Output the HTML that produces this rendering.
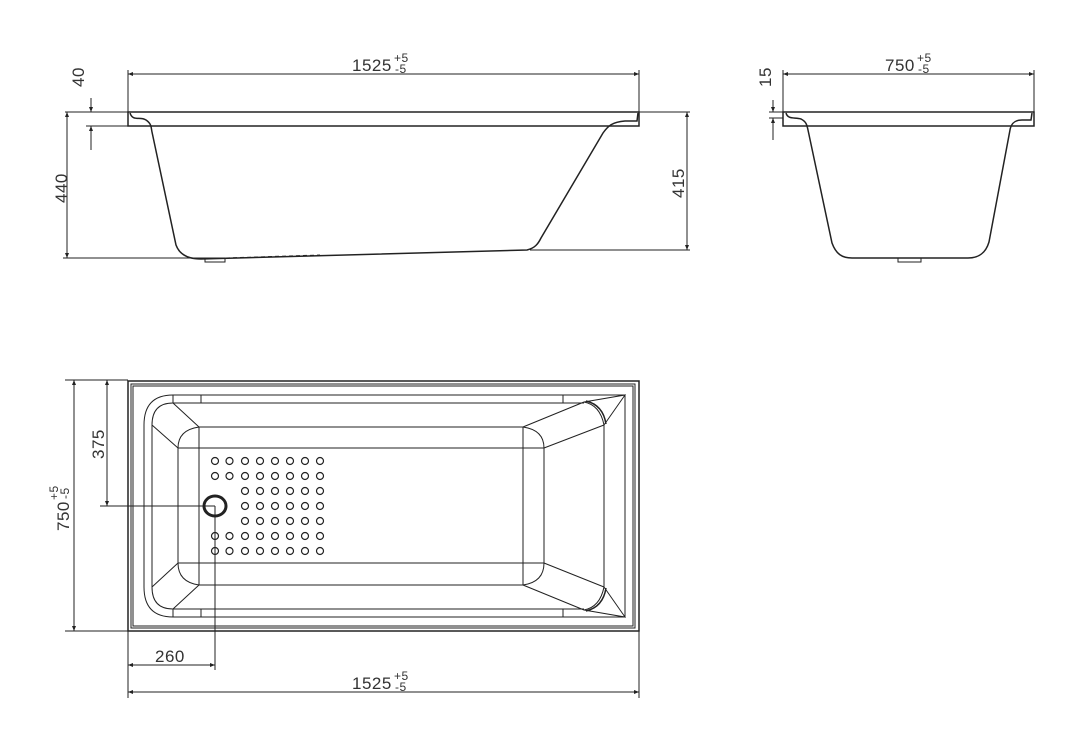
<!DOCTYPE html>
<html><head><meta charset="utf-8"><style>
html,body{margin:0;padding:0;background:#fff}
svg text{font-family:"Liberation Sans",sans-serif;fill:#333}
</style></head><body>
<svg width="1073" height="741" viewBox="0 0 1073 741" xmlns="http://www.w3.org/2000/svg">
<defs>
<marker id="a" viewBox="0 0 10 10" refX="10" refY="5" markerWidth="12" markerHeight="5" orient="auto-start-reverse" markerUnits="userSpaceOnUse"><path d="M0,1 L10,5 L0,9 z" fill="#222"/></marker>
</defs>
<g fill="none" stroke="#222" stroke-width="1">
<!-- SIDE VIEW 1 -->
<line x1="128" y1="70" x2="128" y2="112"/><line x1="639" y1="70" x2="639" y2="112"/>
<line x1="128" y1="74" x2="639" y2="74" marker-start="url(#a)" marker-end="url(#a)"/>
<rect x="128" y="112" width="511" height="14" stroke-width="1.5"/>
<line x1="65" y1="112" x2="128" y2="112"/><line x1="86" y1="126" x2="128" y2="126"/>
<line x1="91" y1="98" x2="91" y2="112" marker-end="url(#a)"/><line x1="91" y1="150" x2="91" y2="126" marker-end="url(#a)"/>
<line x1="67" y1="112" x2="67" y2="258" marker-start="url(#a)" marker-end="url(#a)"/>
<line x1="63" y1="258" x2="205" y2="258"/>
<line x1="639" y1="112" x2="690" y2="112"/><line x1="530" y1="250" x2="690" y2="250"/>
<line x1="687" y1="112" x2="687" y2="250" marker-start="url(#a)" marker-end="url(#a)"/>
<path d="M130,113 C133,122 140,116 146,120 C152,124 151,128 152,132 L176,245 C180,256 190,259 201,259 L527,250 C535,248 538,244 541,238 L603,133 C608,126 612,122 625,121 L637,121 L638,113" stroke-width="1.5"/>
<rect x="205" y="258" width="20" height="4"/>
<line x1="226" y1="258" x2="320" y2="255" stroke-dasharray="4,3"/>
<!-- SIDE VIEW 2 -->
<line x1="783" y1="70" x2="783" y2="112"/><line x1="1034" y1="70" x2="1034" y2="112"/>
<line x1="783" y1="74" x2="1034" y2="74" marker-start="url(#a)" marker-end="url(#a)"/>
<rect x="783" y="112" width="251" height="14" stroke-width="1.5"/>
<line x1="769" y1="112" x2="783" y2="112"/><line x1="769" y1="118" x2="783" y2="118"/>
<line x1="773" y1="100" x2="773" y2="112" marker-end="url(#a)"/><line x1="773" y1="140" x2="773" y2="118" marker-end="url(#a)"/>
<path d="M786,113 C788,120 795,117 801,119 C807,122 807,126 808,130 L832,243 C836,254 842,258 852,258 L968,258 C980,258 986,252 989,242 L1010,130 C1011,124 1014,120 1022,120 L1031,120 L1032,113" stroke-width="1.5"/>
<rect x="898" y="258" width="23" height="4"/>
<!-- TOP VIEW -->
<rect x="128" y="381" width="511" height="250" stroke-width="1.5"/>
<rect x="131" y="384" width="504" height="244"/>
<rect x="133" y="386" width="500" height="240"/>
<path d="M173,395 L625,395 M173,403 L584,403 M173,395 L173,403 M201,395 L201,403 M563,395 L563,403 M173,617 L625,617 M173,609 L584,609 M173,609 L173,617 M201,609 L201,617 M563,609 L563,617"/>
<path d="M173,395 Q144,395 144,425 L144,587 Q144,617 173,617"/>
<path d="M173,403 Q152,403 152,425 L152,587 Q152,609 173,609"/>
<path d="M173,403 L199,427 M152,425 L178,448 M173,609 L199,585 M152,587 L178,563"/>
<path d="M199,427 L523,427 M178,448 L544,448 L544,563 L178,563 Z M199,585 L523,585"/>
<path d="M199,427 Q178,430 178,448 M199,585 Q178,582 178,563 M523,427 Q544,430 544,448 M523,585 Q544,582 544,563"/>
<line x1="199" y1="427" x2="199" y2="585"/><line x1="523" y1="427" x2="523" y2="585"/>
<path d="M523,427 L584,402 M544,448 L604,425 M584,402 L625,395 L604,425 M584,402 Q600,405 604,425"/>
<path d="M586,401 Q603,405 606,424" stroke-width="1.5"/>
<path d="M523,585 L584,610 M544,563 L604,587 M584,610 L625,617 L604,587 M584,610 Q600,607 604,587"/>
<path d="M586,611 Q603,607 606,588" stroke-width="1.5"/>
<line x1="625" y1="395" x2="625" y2="617"/><line x1="604" y1="425" x2="604" y2="587"/>
<!-- dims top view -->
<line x1="65" y1="380" x2="128" y2="380"/><line x1="65" y1="631" x2="128" y2="631"/>
<line x1="74" y1="380" x2="74" y2="631" marker-start="url(#a)" marker-end="url(#a)"/>
<line x1="107" y1="380" x2="107" y2="506" marker-start="url(#a)" marker-end="url(#a)"/>
<line x1="100" y1="506" x2="215" y2="506"/>
<line x1="215" y1="506" x2="215" y2="670"/>
<line x1="128" y1="631" x2="128" y2="698"/><line x1="639" y1="631" x2="639" y2="698"/>
<line x1="128" y1="665" x2="215" y2="665" marker-start="url(#a)" marker-end="url(#a)"/>
<line x1="128" y1="692" x2="639" y2="692" marker-start="url(#a)" marker-end="url(#a)"/>
<ellipse cx="215" cy="506" rx="11" ry="10" stroke-width="3"/>
</g>
<g fill="none" stroke="#222" stroke-width="1.2">
<g id="r1"><circle cx="215" cy="461" r="3.5"/><circle cx="229.5" cy="461" r="3.5"/><circle cx="245" cy="461" r="3.5"/><circle cx="260" cy="461" r="3.5"/><circle cx="275" cy="461" r="3.5"/><circle cx="290" cy="461" r="3.5"/><circle cx="305" cy="461" r="3.5"/><circle cx="320" cy="461" r="3.5"/></g>
<use href="#r1" y="15"/><use href="#r1" y="75"/><use href="#r1" y="90"/>
<g id="r3"><circle cx="245" cy="491" r="3.5"/><circle cx="260" cy="491" r="3.5"/><circle cx="275" cy="491" r="3.5"/><circle cx="290" cy="491" r="3.5"/><circle cx="305" cy="491" r="3.5"/><circle cx="320" cy="491" r="3.5"/></g>
<use href="#r3" y="15"/><use href="#r3" y="30"/>
</g>
<!-- labels -->
<g font-size="17" letter-spacing="0.5">
<text x="352" y="71">1525</text><text x="394" y="62" font-size="12">+5</text><text x="395" y="73" font-size="12">-5</text>
<text x="885" y="71">750</text><text x="917" y="62" font-size="12">+5</text><text x="918" y="73" font-size="12">-5</text>
<text x="352" y="689">1525</text><text x="394" y="680" font-size="12">+5</text><text x="395" y="691" font-size="12">-5</text>
<text x="155" y="662">260</text>
<text transform="translate(84,87) rotate(-90)">40</text>
<text transform="translate(67,203) rotate(-90)">440</text>
<text transform="translate(684,198) rotate(-90)">415</text>
<text transform="translate(771,87) rotate(-90)">15</text>
<text transform="translate(104,459) rotate(-90)">375</text>
<text transform="translate(69,531) rotate(-90)">750</text>
<text transform="translate(58,500) rotate(-90)" font-size="12">+5</text>
<text transform="translate(69,499) rotate(-90)" font-size="12">-5</text>
</g>
</svg>
</body></html>
